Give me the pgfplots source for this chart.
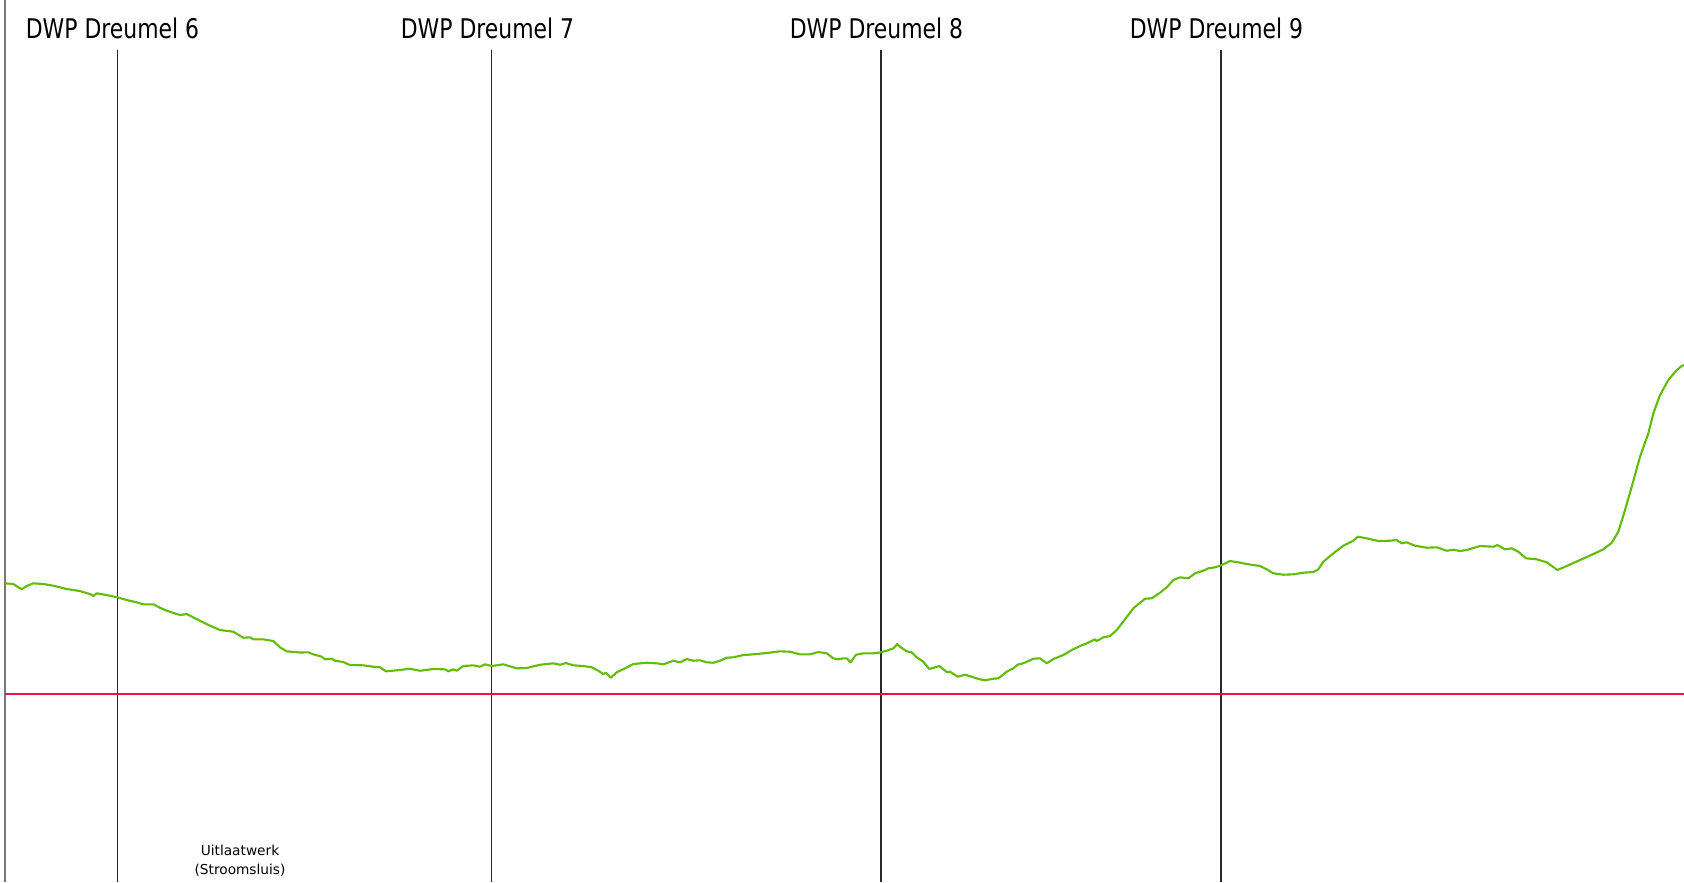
\documentclass[border=0pt]{standalone}
\usepackage{pgfplots}
\pgfplotsset{compat=1.18}
\usepackage{fontspec}
\setmainfont{DejaVu Sans}
\newfontfamily\cadfont[FakeStretch=0.81]{DejaVu Sans}
\definecolor{lineGreen}{RGB}{98,188,8}
\definecolor{levelRed}{RGB}{236,18,72}
\definecolor{edgeGray}{RGB}{120,120,120}
\definecolor{dwpLine}{RGB}{40,40,40}
\begin{document}
\begin{tikzpicture}
\useasboundingbox (0,0) rectangle (16.84cm,8.82cm);
\begin{axis}[
  at={(0,0)}, anchor=south west,
  width=16.84cm, height=8.82cm, scale only axis,
  xmin=0, xmax=1684, ymin=0, ymax=882, y dir=reverse,
  axis lines=none, clip=false,
]
% left edge
\addplot[edgeGray, line width=0.6pt] coordinates {(5,0) (5,882)};
% DWP verticals
\addplot[dwpLine, line width=0.35pt] coordinates {(117.3,50) (117.3,882)};
\addplot[dwpLine, line width=0.35pt] coordinates {(491.7,50) (491.7,882)};
\addplot[dwpLine, line width=0.35pt] coordinates {(881,50) (881,882)};
\addplot[dwpLine, line width=0.35pt] coordinates {(1221,50) (1221,882)};
% red reference level
\addplot[levelRed, line width=0.65pt] coordinates {(5,694) (1684,694)};
% green profile
\addplot[lineGreen, line width=0.6pt, line join=round] coordinates {
(5,583.3)(13.3,584)(21.7,589.3)(26.7,586)(33.3,583.3)(43.3,584)(53.3,585.7)(66.7,589)(80,591)(90,594)(93.3,596)(96.7,593.3)(106.7,595)(117.3,597.3)(126.7,600)(136.7,602.3)(143.3,604.3)(153.3,604.3)(160,607.7)(166.7,610.7)(180,615)(186.7,614)(200,620.7)(210,625.7)(220,630)(233.3,631.7)(243.3,637.7)(250,637.3)(253.3,639.3)(263.3,639.3)(273.3,641)(280,647.3)(286.7,651.3)(300,652.5)(308.3,652.3)(313.3,654.3)(321.7,656.7)(325,659.3)(331.7,658.7)(335,660.7)(343.3,662)(350,665)(363.3,665.3)(373.3,666.7)(380,667.3)(386,671.3)(396.7,670.3)(410,668.7)(420,670.7)(433.3,669)(445,669.3)(448.3,671.3)(453.3,669.3)(456.7,670.7)(463.3,666)(473.3,665.3)(480,666.7)(485,664.3)(491.7,666)(503.3,664.3)(516.7,668.3)(526.7,668)(540,664.7)(553.3,663.3)(560,664.7)(566,663)(573.3,665.3)(583.3,666)(591.7,667.3)(598.3,670.7)(603.3,674)(606,672.7)(610.7,677.7)(616.7,672.3)(625,668.3)(633.3,664)(646.7,662.7)(656.7,663.3)(663.3,664.3)(673.3,660.7)(680,662.3)(686.7,659)(693.3,660.7)(700,660.3)(706.7,662.3)(713.3,662.7)(720,660.7)(726.7,657.7)(733.3,657.3)(743.3,655)(753.3,654.3)(766.7,653)(780,651.3)(790,651.7)(800,654.3)(810,654.3)(818.3,652)(826.7,653.3)(833.3,658.3)(838.3,659.3)(843.3,658.3)(846.7,658.3)(850.7,662.3)(856,654.7)(863.3,653.3)(873.3,653.3)(880,652.5)(886.7,650.7)(893.3,648.3)(897.3,644)(900,646.7)(906.7,651.3)(911.7,652.3)(916.7,657.3)(923.3,661.7)(929.3,669)(935,667.3)(939.3,666)(946.7,672)(950,671.7)(957.7,676.7)(965,674.7)(973.3,677.3)(980,679.3)(985,680.3)(993.3,678.7)(998.3,678.3)(1006.7,671.7)(1013.3,668.3)(1018.3,664.3)(1023.3,663.3)(1033.3,658.7)(1040,658.3)(1046.7,663.3)(1053.3,659)(1063.3,655)(1071.7,650)(1080,646)(1086.7,643.3)(1095,639.3)(1096.7,641)(1103.3,637.3)(1110,636)(1116.7,630)(1125,619.3)(1133.3,608.3)(1145,598.7)(1151.7,598.3)(1160,592.7)(1166.7,587.3)(1173.3,580)(1180,577.3)(1188.3,578.3)(1195,573.3)(1203.3,570.7)(1208.3,568.3)(1215,567.3)(1221,565.3)(1230,561)(1238.3,562.3)(1246.7,564)(1260,566)(1266.7,569.3)(1273.3,573.3)(1283.3,574.7)(1293.3,574.3)(1303.3,572.7)(1313.3,572)(1318.3,569.3)(1323.3,561.7)(1333.3,553.3)(1343.3,545.7)(1353.3,540.7)(1357.7,536.7)(1366.7,538.3)(1378.3,541)(1390,540.7)(1396.7,540)(1401.7,543.3)(1406.7,542.3)(1415,545.7)(1426.7,547.7)(1436.7,547.3)(1446.7,550.7)(1453.3,549.7)(1460,551)(1466.7,550)(1480,546)(1493.3,546.7)(1497.3,545)(1505,549.3)(1511.7,548.3)(1518.3,551.7)(1526,558.3)(1536.7,559.3)(1546.7,562.3)(1557.3,570)(1566.7,566)(1580,560)(1593.3,554)(1603.3,549.3)(1611.7,542.7)(1618.3,531.7)(1625,510)(1631.7,486.7)(1640,456.7)(1648.3,433.3)(1653.3,413.3)(1660,395)(1668.3,380)(1676.7,370)(1681.7,366)(1684,365)
};
% labels
\node[font=\cadfont\fontsize{7.7}{9}\selectfont, inner sep=0pt] at (axis cs:112.5,28) {DWP Dreumel 6};
\node[font=\cadfont\fontsize{7.7}{9}\selectfont, inner sep=0pt] at (axis cs:487.5,28) {DWP Dreumel 7};
\node[font=\cadfont\fontsize{7.7}{9}\selectfont, inner sep=0pt] at (axis cs:876.5,28) {DWP Dreumel 8};
\node[font=\cadfont\fontsize{7.7}{9}\selectfont, inner sep=0pt] at (axis cs:1216.5,28) {DWP Dreumel 9};
\node[font=\fontsize{3.9}{5.4}\selectfont, inner sep=0pt, align=center] at (axis cs:240,861) {Uitlaatwerk\\(Stroomsluis)};
\end{axis}
\end{tikzpicture}
\end{document}
